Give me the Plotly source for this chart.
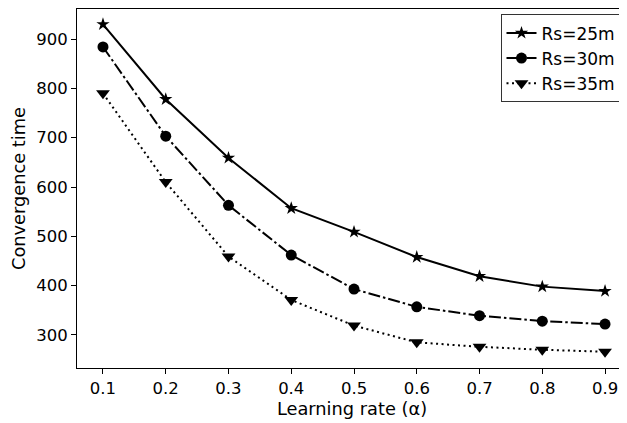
import plotly.graph_objects as go

alpha = [0.1, 0.2, 0.3, 0.4, 0.5, 0.6, 0.7, 0.8, 0.9]
rs25 = [930, 778, 659, 557, 509, 458, 419, 398, 389]
rs30 = [884, 703, 563, 462, 393, 357, 339, 328, 322]
rs35 = [790, 610, 459, 371, 319, 285, 276, 270, 266]
x_ticks = [0.1, 0.2, 0.3, 0.4, 0.5, 0.6, 0.7, 0.8, 0.9]
y_ticks = [300, 400, 500, 600, 700, 800, 900]

fig = go.Figure()
fig.add_trace(go.Scatter(x=alpha, y=rs25, name="Rs=25m", mode="lines+markers",
                         line=dict(color="black", width=2, dash="solid"),
                         marker=dict(symbol="star", size=10, color="black")))
fig.add_trace(go.Scatter(x=alpha, y=rs30, name="Rs=30m", mode="lines+markers",
                         line=dict(color="black", width=2, dash="12px,3px,2.5px,3px"),
                         marker=dict(symbol="circle", size=11, color="black")))
fig.add_trace(go.Scatter(x=alpha, y=rs35, name="Rs=35m", mode="lines+markers",
                         line=dict(color="black", width=2, dash="2px,3.5px"),
                         marker=dict(symbol="triangle-down", size=12, color="black")))

font = "DejaVu Sans"
fig.update_layout(
    width=619, height=415,
    margin=dict(l=69, r=0, t=1, b=55, autoexpand=False),
    paper_bgcolor="white", plot_bgcolor="white",
    font=dict(family=font, size=16.5, color="black"),
    showlegend=True,
    legend=dict(x=0.99, y=0.985, xanchor="right", yanchor="top",
                bordercolor="#333", borderwidth=1, bgcolor="white",
                font=dict(size=17), tracegroupgap=0),
)
fig.update_xaxes(range=[0.0586, 0.935], tickvals=x_ticks, ticktext=[str(v) for v in x_ticks],
                 showgrid=False, zeroline=False, showline=True, linecolor="black", linewidth=1,
                 mirror=True, ticks="outside", ticklen=5, tickcolor="black", automargin=False,
                 title=dict(text="Learning rate (α)", font=dict(size=17.8), standoff=4))
fig.update_yaxes(range=[233, 961], tickvals=y_ticks,
                 showgrid=False, zeroline=False, showline=True, linecolor="black", linewidth=1,
                 mirror=True, ticks="outside", ticklen=5, tickcolor="black", automargin=False,
                 title=dict(text="Convergence time", font=dict(size=17.8), standoff=8))

fig.write_html("out.html")
